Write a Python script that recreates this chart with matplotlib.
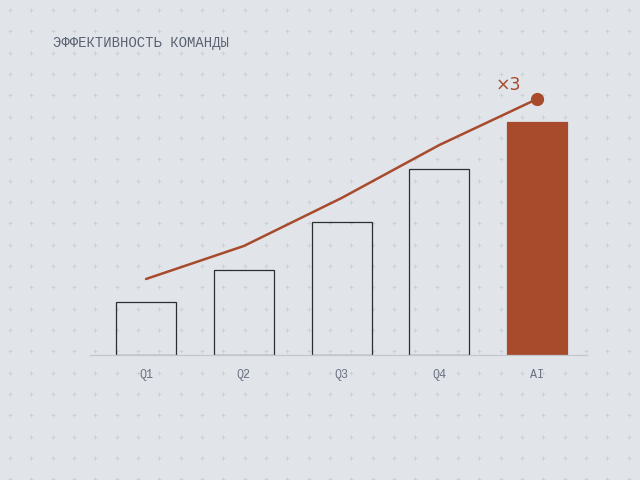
import matplotlib
matplotlib.use("Agg")
import matplotlib.pyplot as plt
import numpy as np

categories = ["Q1", "Q2", "Q3", "Q4", "AI"]
bar_values = [53, 85, 133, 186, 233]
line_values = [76, 109, 157, 210, 256]
title = "ЭФФЕКТИВНОСТЬ КОМАНДЫ"
badge = "×3"

BG = "#e1e5ea"
RUST = "#a84a2c"
DOT = "#c9ced5"

W, H = 640, 480
fig = plt.figure(figsize=(6.4, 4.8), dpi=100, facecolor=BG)

# dotted background
bg = fig.add_axes([0, 0, 1, 1], zorder=0)
bg.set_xlim(0, W)
bg.set_ylim(H, 0)
bg.axis("off")
step = 640 / 30
xs = np.arange(10, W, step)
ys = np.arange(10, H, step)
gx, gy = np.meshgrid(xs, ys)
bg.plot(gx.ravel(), gy.ravel(), "+", color=DOT, markersize=2.6, mew=0.6, linestyle="none")

# main axes in pixel placement
left, right, top, bottom = 90, 587, 60, 355
ax = fig.add_axes([left / W, (H - bottom) / H, (right - left) / W, (bottom - top) / H], zorder=1)
ax.patch.set_alpha(0)
x = np.arange(len(categories))
ax.set_xlim(-0.573, 4.51)
ax.set_ylim(0, bottom - top)

colors = ["none"] * (len(categories) - 1) + [RUST]
edges = ["#2a2e35"] * (len(categories) - 1) + [RUST]
ax.bar(x, bar_values, width=0.614, color=colors, edgecolor=edges, linewidth=0.9, zorder=2)
ax.plot(x, line_values, color=RUST, linewidth=1.8, zorder=3, solid_capstyle="round")
ax.plot(x[-1], line_values[-1], "o", color=RUST, markersize=8.5, zorder=4)
ax.text(x[-1] - 0.16, line_values[-1] + 5, badge, color=RUST, fontsize=12.5,
        ha="right", va="bottom", family="DejaVu Sans")

for s in ["top", "right", "left"]:
    ax.spines[s].set_visible(False)
ax.spines["bottom"].set_color("#c2c6cd")
ax.spines["bottom"].set_linewidth(0.9)
ax.set_yticks([])
ax.set_xticks(x)
ax.set_xticklabels(categories, family="Liberation Mono", fontsize=8.5, color="#6b7280")
ax.tick_params(axis="x", length=0, pad=10)

fig.text(53 / W, 1 - 43 / H, title, family="Liberation Mono", fontsize=10,
         color="#5a6272", ha="left", va="center")

fig.savefig("out.png", dpi=100, facecolor=BG)
